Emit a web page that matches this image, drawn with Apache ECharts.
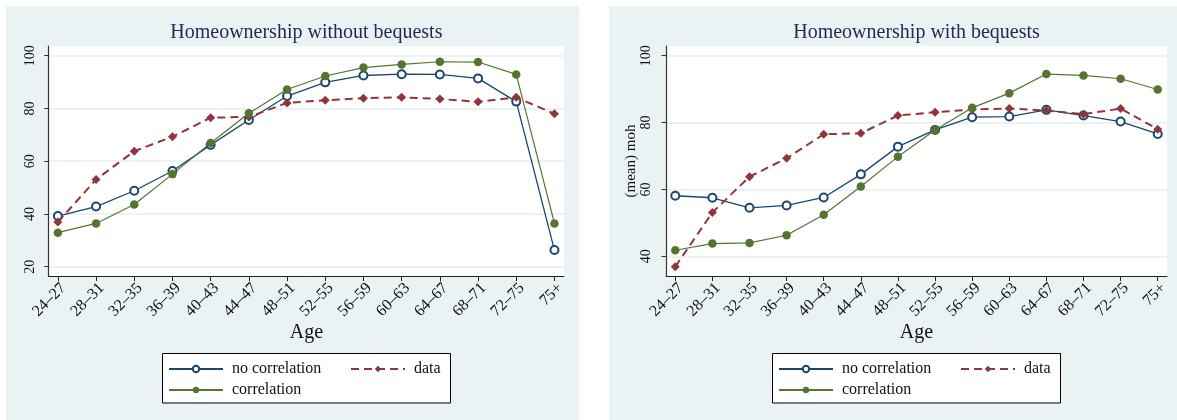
<!DOCTYPE html>
<html>
<head>
<meta charset="utf-8">
<script src="https://cdn.jsdelivr.net/npm/echarts@6/dist/echarts.min.js"></script>
<style>
  html, body { margin: 0; padding: 0; background: #ffffff; }
  #chart { width: 1177px; height: 420px; }
</style>
</head>
<body>
<div id="chart"></div>
<script>
// Age groups on the horizontal axis
const ageGroups = ['24–27', '28–31', '32–35', '36–39', '40–43', '44–47', '48–51',
                   '52–55', '56–59', '60–63', '64–67', '68–71', '72–75', '75+'];

// Tick values on each vertical axis
const yTicksLeft = [20, 40, 60, 80, 100];
const yTicksRight = [40, 60, 80, 100];

// Homeownership rate (%) by age group, model without bequests
const noBequestNoCorr = [39.2, 42.8, 48.8, 56.3, 66.2, 75.6, 84.7, 89.9, 92.5, 93.0, 92.9, 91.4, 82.6, 26.3];
const noBequestCorr   = [32.9, 36.4, 43.6, 55.1, 66.9, 78.2, 87.2, 92.3, 95.5, 96.7, 97.7, 97.6, 92.9, 36.4];

// Homeownership rate (%) by age group, model with bequests
const bequestNoCorr = [58.1, 57.5, 54.5, 55.2, 57.6, 64.5, 72.8, 77.8, 81.6, 81.8, 83.8, 82.1, 80.3, 76.6];
const bequestCorr   = [41.8, 43.8, 44.0, 46.3, 52.4, 60.9, 69.8, 77.8, 84.4, 88.8, 94.5, 94.1, 93.1, 89.9];

// Observed homeownership rate (%) by age group
const dataMoh = [36.9, 53.1, 63.8, 69.3, 76.5, 76.8, 82.1, 83.1, 83.9, 84.2, 83.6, 82.5, 84.2, 78.0];

const SERIF = '"Liberation Serif", "DejaVu Serif", "Times New Roman", serif';
const NAVY = '#1a476f';
const MAROON = '#90353b';
const GREEN = '#55752f';
const REGION_BG = '#eaf2f3';
const GRID_LINE = '#e3eef0';
const TITLE_COLOR = '#1e2a52';

const catIndex = ageGroups.map((_, i) => i);
const toPoints = arr => arr.map((v, i) => [i, v]);

function xAxisFor(gridIndex, min, max) {
  return {
    type: 'value', gridIndex, min, max,
    axisLine: { show: true, onZero: false, lineStyle: { color: '#222', width: 1 } },
    axisTick: { show: true, length: 5, customValues: catIndex, lineStyle: { color: '#222', width: 1 } },
    axisLabel: {
      customValues: catIndex, rotate: 45, margin: 4,
      align: 'right', verticalAlign: 'top',
      formatter: v => ageGroups[Math.round(v)],
      fontFamily: SERIF, fontSize: 16, color: '#111'
    },
    splitLine: { show: false }
  };
}

function yAxisFor(gridIndex, min, max, ticks, margin, name) {
  return {
    type: 'value', gridIndex, min, max,
    name: name || '', nameLocation: 'middle', nameGap: 24,
    nameTextStyle: { fontFamily: SERIF, fontSize: 15, color: '#111' },
    axisLine: { show: true, onZero: false, lineStyle: { color: '#333', width: 1.2 } },
    axisTick: { show: true, length: 4.5, customValues: ticks, lineStyle: { color: '#333', width: 1 } },
    axisLabel: {
      customValues: ticks, rotate: 90, margin,
      fontFamily: SERIF, fontSize: 14, color: '#111'
    },
    splitLine: { show: true, lineStyle: { color: GRID_LINE, width: 1.5 } }
  };
}

function seriesFor(axisIndex, noCorr, corr) {
  return [
    {
      name: 'no correlation', type: 'line', xAxisIndex: axisIndex, yAxisIndex: axisIndex,
      data: toPoints(noCorr), symbol: 'emptyCircle', symbolSize: 8,
      lineStyle: { color: NAVY, width: 1.3 },
      itemStyle: { color: NAVY, borderWidth: 1.3 }, z: 2
    },
    {
      name: 'data', type: 'line', xAxisIndex: axisIndex, yAxisIndex: axisIndex,
      data: toPoints(dataMoh), symbol: 'diamond', symbolSize: 9,
      lineStyle: { color: MAROON, width: 2, type: [8, 5] },
      itemStyle: { color: MAROON }, z: 3
    },
    {
      name: 'correlation', type: 'line', xAxisIndex: axisIndex, yAxisIndex: axisIndex,
      data: toPoints(corr), symbol: 'circle', symbolSize: 8.5,
      lineStyle: { color: GREEN, width: 1.2 },
      itemStyle: { color: GREEN }, z: 4
    }
  ];
}

function legendItem(name, left, top) {
  return {
    data: [name], left, top, orient: 'horizontal', padding: 0, itemGap: 0,
    itemWidth: 54, itemHeight: 8, selectedMode: false,
    textStyle: { fontFamily: SERIF, fontSize: 16, color: '#111', padding: [0, 0, 0, 4] }
  };
}

// Panel geometry (pixels)
const panels = [
  { bgX: 6, bgW: 573, plotL: 48.7, plotR: 564, title: 'Homeownership without bequests', legendX: 162.5 },
  { bgX: 609, bgW: 568, plotL: 666, plotR: 1167, title: 'Homeownership with bequests', legendX: 772.5 }
];
const plotTop = 46, plotBottom = 276;

const graphics = [];
const legends = [];
panels.forEach(p => {
  const cx = (p.plotL + p.plotR) / 2;
  graphics.push({ type: 'rect', z: -10, silent: true,
    shape: { x: p.bgX, y: 6, width: p.bgW, height: 414 }, style: { fill: REGION_BG } });
  graphics.push({ type: 'rect', z: 1, silent: true,
    shape: { x: p.legendX, y: 353.5, width: 288, height: 49.5 },
    style: { fill: '#ffffff', stroke: '#000000', lineWidth: 1 } });
  graphics.push({ type: 'text', x: cx, y: 32.5, silent: true,
    style: { text: p.title, fill: TITLE_COLOR, font: '20px ' + SERIF, align: 'center', verticalAlign: 'middle' } });
  graphics.push({ type: 'text', x: cx, y: 332.5, silent: true,
    style: { text: 'Age', fill: '#111', font: '20px ' + SERIF, align: 'center', verticalAlign: 'middle' } });
  const lx = p.legendX + 5.5;
  legends.push(legendItem('no correlation', lx, 361));
  legends.push(legendItem('data', lx + 182, 361));
  legends.push(legendItem('correlation', lx, 382));
});

const chart = echarts.init(document.getElementById('chart'), null, { renderer: 'canvas' });
chart.setOption({
  animation: false,
  backgroundColor: '#ffffff',
  graphic: { elements: graphics },
  legend: legends,
  grid: panels.map(p => ({
    left: p.plotL, top: plotTop, width: p.plotR - p.plotL, height: plotBottom - plotTop,
    show: true, backgroundColor: '#ffffff', borderWidth: 0, containLabel: false
  })),
  xAxis: [xAxisFor(0, -0.24, 13.25), xAxisFor(1, -0.25, 13.25)],
  yAxis: [
    yAxisFor(0, 16.47, 103.68, yTicksLeft, 11),
    yAxisFor(1, 34.1, 102.9, yTicksRight, 13, '(mean) moh')
  ],
  series: [
    ...seriesFor(0, noBequestNoCorr, noBequestCorr),
    ...seriesFor(1, bequestNoCorr, bequestCorr)
  ]
});
</script>
</body>
</html>
